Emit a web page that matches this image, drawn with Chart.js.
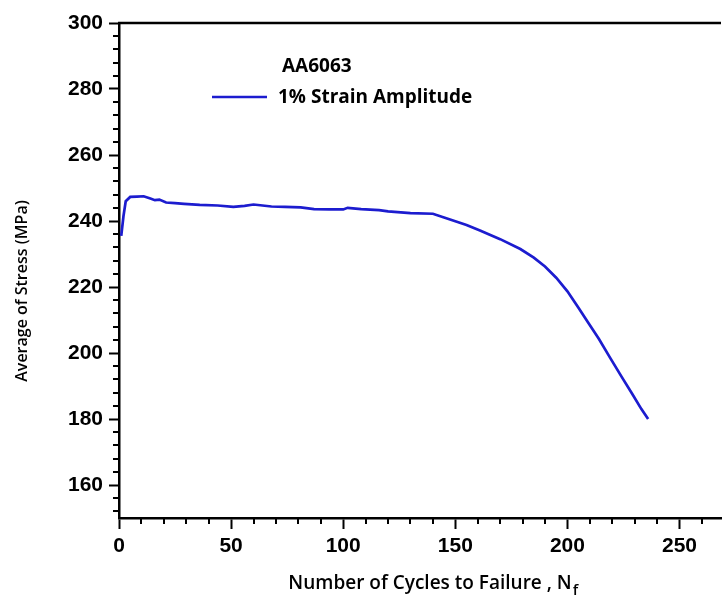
<!DOCTYPE html>
<html>
<head>
<meta charset="utf-8">
<script src="https://cdn.jsdelivr.net/npm/chart.js@4.4.1/dist/chart.umd.min.js"></script>
<style>
    html, body { margin: 0; padding: 0; background: #fff; }
    #wrap { width: 722px; height: 604px; }
</style>
</head>
<body>
<div id="wrap"><canvas id="stressChart"></canvas></div>
<script>
// values
const cycles = [1, 2, 3, 5, 8, 11, 14, 16, 18, 21, 25, 29, 36, 44, 51, 56, 60, 64, 68, 74,
    81, 87, 94, 100, 102, 108, 116, 120, 130, 140, 148, 155, 161, 170, 179, 185, 190, 195,
    200, 205, 209, 214, 219, 224, 229, 233, 236];
const avgStress = [235.5, 241.5, 246.0, 247.3, 247.4, 247.5, 246.8, 246.3, 246.5, 245.6, 245.4,
    245.2, 244.9, 244.7, 244.3, 244.6, 245.0, 244.7, 244.4, 244.3,
    244.1, 243.6, 243.5, 243.5, 244.0, 243.6, 243.3, 242.9, 242.4, 242.2, 240.4, 238.8, 237.1,
    234.5, 231.5, 228.9, 226.2, 222.8, 218.7, 213.6, 209.5, 204.3, 198.6, 193.0, 187.5, 183.0, 180.0];

const xTickValues = [0, 50, 100, 150, 200, 250];
const yTickValues = [160, 180, 200, 220, 240, 260, 280, 300];

const materialName = 'AA6063';
const seriesName = '1% Strain Amplitude';
const xTitle = 'Number of Cycles to Failure , N';
const xTitleSub = 'f';
const yTitle = 'Average of Stress (MPa)';

const lineColor = '#1c1ccf';
const tickFont = { family: '"Liberation Sans", Arial, sans-serif', size: 21, weight: 'bold' };
const legendFont = '700 19px "Open Sans", sans-serif';

// minor ticks, top frame line, legend and axis titles
const axisDecor = {
    id: 'axisDecor',
    afterDraw(chart) {
        const ctx = chart.ctx;
        const a = chart.chartArea;
        const xs = chart.scales.x;
        const ys = chart.scales.y;
        ctx.save();
        ctx.strokeStyle = '#000';
        ctx.lineWidth = 2;
        ctx.beginPath();
        for (let v = 10; v < xs.max; v += 10) {
            if (v % 50 === 0) continue;
            const px = Math.round(xs.getPixelForValue(v));
            ctx.moveTo(px, a.bottom);
            ctx.lineTo(px, a.bottom + 6);
        }
        for (let v = 152; v < 300; v += 4) {
            if (v % 20 === 0) continue;
            const py = Math.round(ys.getPixelForValue(v));
            ctx.moveTo(a.left, py);
            ctx.lineTo(a.left - 6, py);
        }
        ctx.stroke();

        ctx.lineWidth = 2.5;
        ctx.beginPath();
        ctx.moveTo(a.left - 1, a.top);
        ctx.lineTo(a.right, a.top);
        ctx.stroke();

        // legend
        ctx.fillStyle = '#000';
        ctx.font = legendFont;
        ctx.textBaseline = 'middle';
        ctx.textAlign = 'left';
        ctx.fillText(materialName, a.left + 163, a.top + 44);
        ctx.fillText(seriesName, a.left + 159, a.top + 75);
        ctx.strokeStyle = lineColor;
        ctx.lineWidth = 2.5;
        ctx.beginPath();
        ctx.moveTo(a.left + 93, a.top + 74);
        ctx.lineTo(a.left + 148, a.top + 74);
        ctx.stroke();

        // axis titles
        ctx.font = '600 19px "Open Sans", sans-serif';
        ctx.textAlign = 'left';
        ctx.textBaseline = 'alphabetic';
        const w = ctx.measureText(xTitle).width;
        const tx = 430 - w / 2;
        ctx.fillText(xTitle, tx, 589);
        ctx.font = '600 15px "Open Sans", sans-serif';
        ctx.fillText(xTitleSub, tx + w + 1, 595);

        ctx.font = '600 16px "Open Sans", sans-serif';
        ctx.translate(27, 291);
        ctx.rotate(-Math.PI / 2);
        ctx.textAlign = 'center';
        ctx.fillText(yTitle, 0, 0);
        ctx.restore();
    }
};

const points = cycles.map((c, i) => ({ x: c, y: avgStress[i] }));

new Chart(document.getElementById('stressChart').getContext('2d'), {
    type: 'line',
    data: {
        datasets: [{
            label: seriesName,
            data: points,
            borderColor: lineColor,
            borderWidth: 2.7,
            pointRadius: 0,
            tension: 0,
            fill: false
        }]
    },
    options: {
        responsive: true,
        maintainAspectRatio: false,
        animation: false,
        layout: {
            padding: { left: 0, top: 23, right: 1, bottom: 0 }
        },
        scales: {
            x: {
                type: 'linear',
                min: 0,
                max: 268.5,
                afterBuildTicks: (scale) => {
                    scale.ticks = xTickValues.map(v => ({ value: v }));
                },
                afterFit: (scale) => { scale.height = 86; },
                grid: {
                    display: true,
                    drawOnChartArea: false,
                    drawTicks: true,
                    tickLength: 11,
                    tickWidth: 2,
                    tickColor: '#000'
                },
                border: { display: true, color: '#000', width: 2.5 },
                ticks: {
                    color: '#000',
                    font: tickFont,
                    padding: 5,
                    maxRotation: 0
                }
            },
            y: {
                min: 150,
                max: 300,
                afterBuildTicks: (scale) => {
                    scale.ticks = yTickValues.map(v => ({ value: v }));
                },
                afterFit: (scale) => { scale.width = 119; },
                grid: {
                    display: true,
                    drawOnChartArea: false,
                    drawTicks: true,
                    tickLength: 10,
                    tickWidth: 2,
                    tickColor: '#000'
                },
                border: { display: true, color: '#000', width: 2.5 },
                ticks: {
                    color: '#000',
                    font: tickFont,
                    padding: 6
                }
            }
        },
        plugins: {
            legend: { display: false },
            tooltip: { enabled: false }
        }
    },
    plugins: [axisDecor]
});
</script>
</body>
</html>
